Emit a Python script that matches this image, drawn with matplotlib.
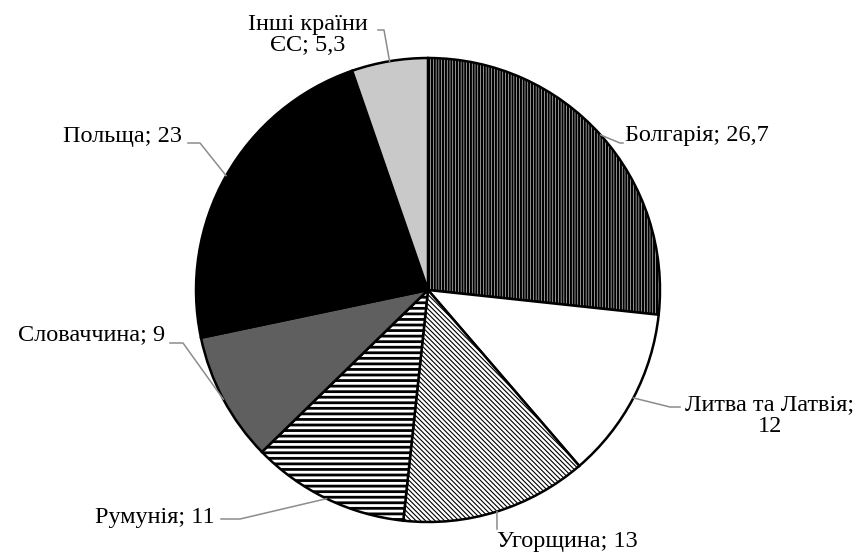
import numpy as np
import matplotlib
matplotlib.use("Agg")
import matplotlib.pyplot as plt

# shares, clockwise from 12 o'clock
countries = ["Болгарія", "Литва та Латвія", "Угорщина", "Румунія",
             "Словаччина", "Польща", "Інші країни ЄС"]
shares = [26.7, 12, 13, 11, 9, 23, 5.3]
label_texts = ["Болгарія; 26,7", "Литва та Латвія;\n12", "Угорщина; 13",
               "Румунія; 11", "Словаччина; 9", "Польща; 23", "Інші країни\nЄС; 5,3"]

fills = ["white", "white", "white", "white", "#5f5f5f", "black", "#c9c9c9"]
hatches = ["||||||", None, "\\\\\\\\\\\\\\", "---", None, None, None]
hatch_lw = [1.6, 1.0, 0.8, 2.0, 1.0, 1.0, 1.0]

# label placement in radius units: (text pos, ha, elbow, end of leader)
R_PX = 232.0
CX, CY = 428.0, 290.0


def u(px, py):
    return (px - CX) / R_PX, (CY - py) / R_PX


placements = [
    (u(625, 136), "left", u(620, 143), u(623, 143)),
    (u(770, 416), "center", u(670, 407), u(680, 407)),
    (u(497, 542), "left", u(497, 529), u(497, 529)),
    (u(215, 517), "right", u(240, 519), u(221, 519)),
    (u(165, 335), "right", u(183, 343), u(170, 343)),
    (u(182, 137), "right", u(200, 143), u(188, 143)),
    (u(308, 35), "center", u(384, 30), u(378, 30)),
]

plt.rcParams["font.family"] = ["Liberation Serif", "DejaVu Serif"]
plt.rcParams["hatch.linewidth"] = 1.0

fig = plt.figure(figsize=(8.68, 5.57), dpi=100)
ax = fig.add_axes([0, 0, 1, 1])

wedges, _ = ax.pie(shares, startangle=90, counterclock=False, radius=1.0,
                   colors=fills,
                   wedgeprops=dict(edgecolor="black", linewidth=1.8))
for w, h, lw in zip(wedges, hatches, hatch_lw):
    if h:
        w.set_hatch(h)
        if hasattr(w, "set_hatch_linewidth"):
            w.set_hatch_linewidth(lw)

for w, text, (tpos, ha, elbow, end) in zip(wedges, label_texts, placements):
    mid = np.deg2rad((w.theta1 + w.theta2) / 2)
    ex, ey = np.cos(mid), np.sin(mid)
    ax.plot([ex, elbow[0], end[0]], [ey, elbow[1], end[1]],
            color="#8c8c8c", linewidth=1.1, zorder=1)
    ax.text(tpos[0], tpos[1], text, ha=ha, va="center", fontsize=17.5,
            linespacing=1.05, multialignment="center")

ax.set_xlim(-CX / R_PX, (868 - CX) / R_PX)
ax.set_ylim(-(557 - CY) / R_PX, CY / R_PX)
ax.set_aspect("equal")
ax.axis("off")

fig.savefig("out.png", dpi=100, facecolor="white")
